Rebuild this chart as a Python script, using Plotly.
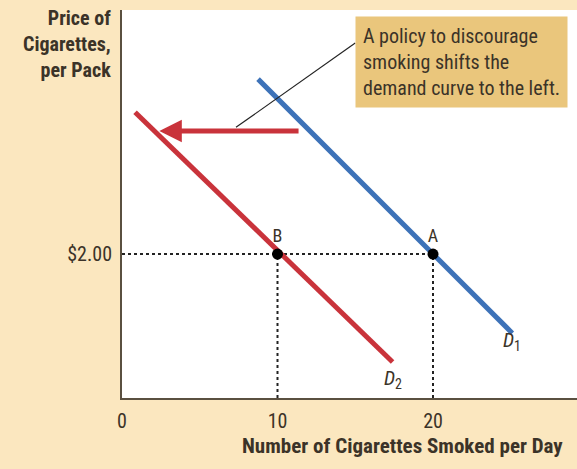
import plotly.graph_objects as go

# Data
d1_q = [8.75, 25.1]
d1_p = [4.43, 0.90]
d2_q = [0.84, 17.4]
d2_p = [3.97, 0.50]
eq_q = [10, 20]
eq_p = [2.0, 2.0]
eq_labels = ["B", "A"]
x_ticks = [0, 10, 20]
y_ticks = [2.0]
y_tick_labels = ["$2.00"]
shift_arrow = {"from": 11.45, "to": 2.4, "p": 3.71}

BG = "#fbe7bf"
RED = "#c9333b"
BLUE = "#3d72b8"
TXT = "#3b3328"
FONT = "Liberation Sans Narrow, Roboto Condensed, Arial Narrow, Liberation Sans, sans-serif"

fig = go.Figure()

# dotted guides
fig.add_trace(go.Scatter(x=[0, eq_q[1]], y=[eq_p[0], eq_p[1]], mode="lines",
                         line=dict(color="#222", width=2, dash="dot"), hoverinfo="skip"))
for q, p in zip(eq_q, eq_p):
    fig.add_trace(go.Scatter(x=[q, q], y=[0, p], mode="lines",
                             line=dict(color="#222", width=2, dash="dot"), hoverinfo="skip"))

fig.add_trace(go.Scatter(x=d1_q, y=d1_p, mode="lines", line=dict(color=BLUE, width=5)))
fig.add_trace(go.Scatter(x=d2_q, y=d2_p, mode="lines", line=dict(color=RED, width=5)))
fig.add_trace(go.Scatter(x=eq_q, y=eq_p, mode="markers+text", text=eq_labels,
                         textposition="top center",
                         textfont=dict(family=FONT, size=18, color=TXT),
                         marker=dict(color="black", size=11)))

# callout connector
fig.add_shape(type="line", x0=7.33, y0=3.76, x1=15.0, y1=4.93,
              line=dict(color="#222", width=1.2))

# red shift arrow
fig.add_annotation(x=shift_arrow["to"], y=shift_arrow["p"], ax=shift_arrow["from"], ay=shift_arrow["p"],
                   xref="x", yref="y", axref="x", ayref="y", text="", showarrow=True,
                   arrowhead=2, arrowsize=0.9, arrowwidth=5, arrowcolor=RED)

# callout box
fig.add_annotation(x=14.98, y=5.30, xref="x", yref="y", xanchor="left", yanchor="top",
                   text="A policy to discourage<br>smoking shifts the<br>demand curve to the left.",
                   showarrow=False, align="left", bgcolor="#eac67c", borderpad=7,
                   font=dict(family=FONT, size=20, color=TXT))

# curve labels
fig.add_annotation(x=25.05, y=0.79, text="<i>D</i><sub>1</sub>", showarrow=False,
                   font=dict(family=FONT, size=20, color=TXT))
fig.add_annotation(x=17.45, y=0.27, text="<i>D</i><sub>2</sub>", showarrow=False,
                   font=dict(family=FONT, size=20, color=TXT))

# arrow under axis 20 -> 10
fig.add_annotation(x=11.4, y=-0.305, ax=18.8, ay=-0.305, xref="x", yref="y", axref="x", ayref="y",
                   text="", showarrow=True, arrowhead=2, arrowsize=1.2, arrowwidth=1.3,
                   arrowcolor="#333")

# axis titles
fig.add_annotation(x=-0.02, y=1.0, xref="paper", yref="paper", xanchor="right", yanchor="top",
                   text="<b>Price of<br>Cigarettes,<br>per Pack</b>", showarrow=False, align="right",
                   font=dict(family=FONT, size=20, color=TXT), yshift=6)
fig.add_annotation(x=0.259, y=0, xref="paper", yref="paper", xanchor="left", yanchor="top",
                   text="<b>Number of Cigarettes Smoked per Day</b>", showarrow=False,
                   font=dict(family=FONT, size=21, color=TXT), yshift=-34)

fig.update_layout(
    width=577, height=469, margin=dict(l=122, r=0, t=10, b=71, autoexpand=False),
    paper_bgcolor=BG, plot_bgcolor="white", showlegend=False,
    xaxis=dict(range=[0, 29.26], showgrid=False, zeroline=False, showline=True, automargin=False,
               linecolor="#5a5040", linewidth=2, tickvals=x_ticks, ticks="outside",
               ticklen=0, ticklabelstandoff=4,
               tickfont=dict(family=FONT, size=20, color=TXT), fixedrange=True),
    yaxis=dict(range=[0, 5.39], showgrid=False, zeroline=False, showline=True, automargin=False,
               linecolor="#5a5040", linewidth=2, tickvals=y_ticks, ticktext=y_tick_labels,
               ticks="outside", ticklen=0, ticklabelstandoff=4,
               tickfont=dict(family=FONT, size=20, color=TXT), fixedrange=True),
)

fig.write_html("out.html", config={"displayModeBar": False},
               post_script="document.body.style.margin='0';document.body.style.background='%s';" % BG)
